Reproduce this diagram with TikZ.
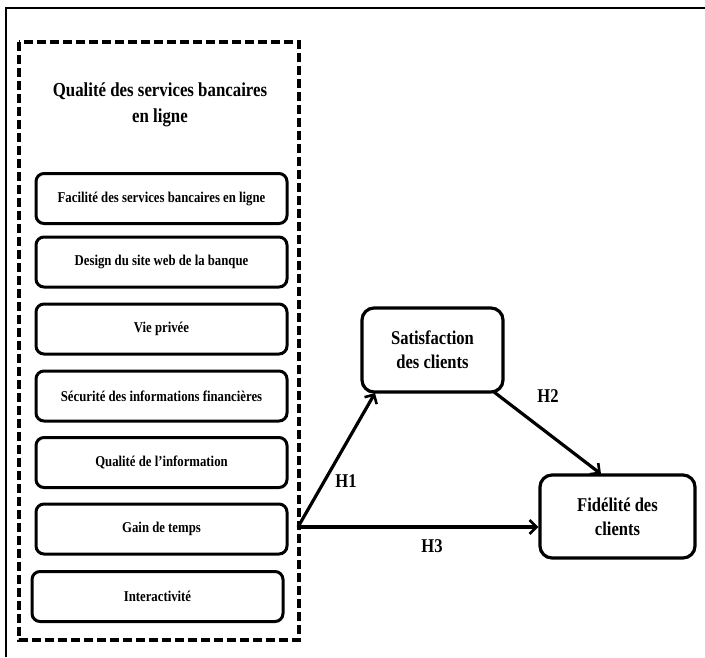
\documentclass[tikz,border=0pt]{standalone}
\usepackage{fontspec}
\setmainfont{Liberation Serif}[FakeStretch=0.85]
\usetikzlibrary{arrows.meta}
\begin{document}
\begin{tikzpicture}[x=1pt,y=-1pt,
  itembox/.style={draw, line width=3pt, rounded corners=8pt, minimum width=251pt, minimum height=50pt, font=\bfseries\fontsize{15}{17}\selectfont, inner sep=0pt},
  bigbox/.style={draw, line width=3.2pt, rounded corners=12pt, font=\bfseries\fontsize{19.5}{24}\selectfont, align=center, inner sep=0pt},
  arr/.style={line width=3.2pt, -{Straight Barb[length=7pt,width=14pt,line width=2.6pt]}},
  hlab/.style={font=\bfseries\fontsize{19.5}{20}\selectfont, inner sep=0pt}
]
\useasboundingbox (0,0) rectangle (705,657);
\fill[white] (0,0) rectangle (705,657);
% outer frame
\draw[line width=2pt] (705,8) -- (6,8) -- (6,657);
% dashed group
\draw[line width=3.6pt, dash pattern=on 9pt off 4pt] (19,42) rectangle (299,640);
\node[font=\bfseries\fontsize{19.8}{26}\selectfont, align=center] (title) at (160,105) {Qualité des services bancaires\\en ligne};
\node[itembox] (b1) at (161.5,198.5) {Facilité des services bancaires en ligne};
\node[itembox] (b2) at (161.5,262) {Design du site web de la banque};
\node[itembox] (b3) at (161.5,329) {Vie privée};
\node[itembox] (b4) at (161.5,396) {Sécurité des informations financières};
\node[itembox] (b5) at (161.5,462.5) {Qualité de l’information};
\node[itembox] (b6) at (161.5,529) {Gain de temps};
\node[itembox] (b7) at (157.5,596.5) {Interactivité};
\node[bigbox, minimum width=141pt, minimum height=84pt] (sat) at (432.5,350) {Satisfaction\\des clients};
\node[bigbox, minimum width=155pt, minimum height=83pt] (fid) at (617.5,516.5) {Fidélité des\\clients};
\coordinate (o) at (298,527);
\draw[arr] (o) -- (375,393);
\draw[arr] (o) -- (fid.west |- o);
\draw[arr] (494,392) -- (601,474);
\node[hlab] (h1) at (346,481) {H1};
\node[hlab] (h2) at (548,396) {H2};
\node[hlab] (h3) at (432,546) {H3};
\end{tikzpicture}
\end{document}
